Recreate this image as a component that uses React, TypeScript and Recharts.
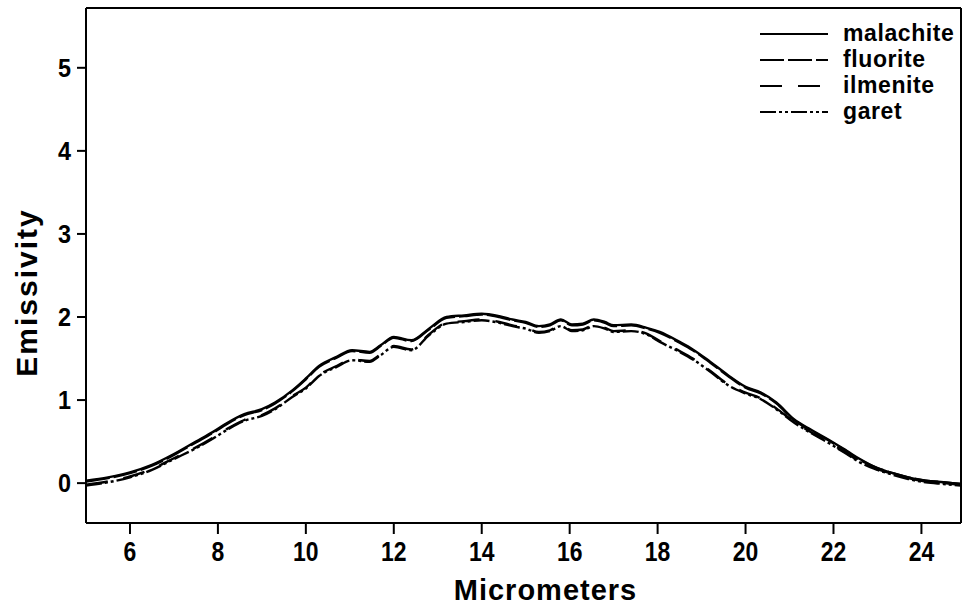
import React from 'react';
import { LineChart, Line, XAxis, YAxis, ReferenceLine } from 'recharts';

const wavelength = [5.0, 5.5, 6.0, 6.5, 7.0, 7.5, 7.9, 8.2, 8.6, 9.0, 9.3, 9.7, 10.0, 10.3, 10.7, 11.05, 11.45, 11.7, 12.0, 12.4, 12.8, 13.2, 13.6, 14.0, 14.4, 14.7, 15.0, 15.3, 15.55, 15.8, 16.05, 16.3, 16.55, 16.8, 17.0, 17.4, 17.75, 18.05, 18.5, 18.8, 19.2, 19.6, 20.0, 20.35, 20.7, 21.1, 21.5, 21.9, 22.3, 22.6, 23.0, 23.35, 23.7, 24.1, 24.5, 24.9];

const malachite = [0.03, 0.07, 0.13, 0.22, 0.35, 0.50, 0.62, 0.72, 0.83, 0.89, 0.97, 1.12, 1.26, 1.41, 1.52, 1.60, 1.58, 1.66, 1.76, 1.72, 1.86, 2.00, 2.02, 2.04, 2.01, 1.97, 1.94, 1.89, 1.91, 1.97, 1.91, 1.92, 1.97, 1.94, 1.90, 1.91, 1.87, 1.82, 1.70, 1.61, 1.46, 1.30, 1.16, 1.09, 0.97, 0.77, 0.64, 0.52, 0.39, 0.29, 0.18, 0.12, 0.07, 0.03, 0.01, -0.01];
const fluorite = [0.02, 0.06, 0.12, 0.21, 0.34, 0.49, 0.61, 0.71, 0.82, 0.88, 0.96, 1.11, 1.25, 1.40, 1.51, 1.59, 1.57, 1.65, 1.75, 1.71, 1.85, 1.99, 2.01, 2.03, 2.00, 1.96, 1.93, 1.88, 1.90, 1.96, 1.90, 1.91, 1.96, 1.93, 1.89, 1.90, 1.86, 1.81, 1.69, 1.60, 1.45, 1.29, 1.15, 1.08, 0.96, 0.76, 0.63, 0.51, 0.38, 0.28, 0.18, 0.12, 0.07, 0.03, 0.01, -0.01];
const ilmenite = [-0.02, 0.02, 0.08, 0.17, 0.30, 0.43, 0.55, 0.65, 0.76, 0.82, 0.90, 1.05, 1.15, 1.30, 1.41, 1.49, 1.47, 1.55, 1.65, 1.61, 1.79, 1.93, 1.95, 1.97, 1.94, 1.90, 1.87, 1.82, 1.84, 1.90, 1.84, 1.85, 1.90, 1.87, 1.83, 1.84, 1.80, 1.71, 1.59, 1.50, 1.35, 1.19, 1.09, 1.02, 0.90, 0.74, 0.61, 0.49, 0.36, 0.26, 0.17, 0.11, 0.06, 0.02, 0.00, -0.02];
const garet = [-0.03, 0.01, 0.07, 0.16, 0.29, 0.42, 0.54, 0.64, 0.75, 0.81, 0.89, 1.04, 1.14, 1.29, 1.40, 1.48, 1.46, 1.54, 1.64, 1.60, 1.78, 1.92, 1.94, 1.96, 1.93, 1.89, 1.86, 1.81, 1.83, 1.89, 1.83, 1.84, 1.89, 1.86, 1.82, 1.83, 1.79, 1.70, 1.58, 1.49, 1.34, 1.18, 1.08, 1.01, 0.89, 0.73, 0.60, 0.48, 0.35, 0.25, 0.16, 0.10, 0.05, 0.01, -0.01, -0.03];

const xTicks = [6, 8, 10, 12, 14, 16, 18, 20, 22, 24];
const yTicks = [0, 1, 2, 3, 4, 5];
const xDomain = [5, 24.9];
const yDomain = [-0.48, 5.72];

const seriesNames = ['malachite', 'fluorite', 'ilmenite', 'garet'];
const seriesDash = ['', '24 4', '22 16', '16 3 3 3 3 3'];

const data = wavelength.map((w, i) => ({
  w,
  malachite: malachite[i],
  fluorite: fluorite[i],
  ilmenite: ilmenite[i],
  garet: garet[i],
}));

const FONT = '"Liberation Sans", Arial, Helvetica, sans-serif';

const LegendBox = () => (
  <div style={{ position: 'absolute', left: 758, top: 20, fontFamily: FONT, fontWeight: 'bold', fontSize: 23, letterSpacing: 0.6, color: '#000' }}>
    {seriesNames.map((n, i) => (
      <div key={n} style={{ display: 'flex', alignItems: 'center', height: 26 }}>
        <svg width={72} height={12} style={{ marginRight: 13 }}>
          <line x1={2} y1={7} x2={70} y2={7} stroke="#000" strokeWidth={2} strokeDasharray={seriesDash[i] || undefined} />
        </svg>
        <span>{n}</span>
      </div>
    ))}
  </div>
);

const XTick = (props: any) => {
  const { x, y, payload } = props;
  return (
    <text transform={`translate(${x} ${y + 22}) scale(0.85 1)`} textAnchor="middle" fontFamily={FONT} fontWeight="bold" fontSize={27} fill="#000">
      {payload.value}
    </text>
  );
};

const YTick = (props: any) => {
  const { x, y, payload } = props;
  return (
    <text transform={`translate(${x} ${y + 9}) scale(0.9 1)`} textAnchor="end" fontFamily={FONT} fontWeight="bold" fontSize={26} fill="#000">
      {payload.value}
    </text>
  );
};

const XTitle = (props: any) => {
  const vb = props.viewBox;
  return (
    <text x={vb.x + vb.width / 2 + 22} y={vb.y + 77} textAnchor="middle" fontFamily={FONT} fontWeight="bold" fontSize={29} letterSpacing={1} fill="#000">
      Micrometers
    </text>
  );
};

const YTitle = (props: any) => {
  const vb = props.viewBox;
  const cx = vb.x + 26;
  const cy = vb.y + vb.height / 2 + 27;
  return (
    <text x={cx} y={cy} transform={`rotate(-90 ${cx} ${cy})`} textAnchor="middle" dominantBaseline="central" fontFamily={FONT} fontWeight="bold" fontSize={30} letterSpacing={2} fill="#000">
      Emissivity
    </text>
  );
};

export default function App() {
  return (
    <div style={{ position: 'absolute', left: 0, top: 0, width: 962, height: 607, background: '#fff' }}>
      <LineChart width={962} height={607} data={data} margin={{ top: 8, right: 1, bottom: 0, left: 0 }}>
        <XAxis
          dataKey="w"
          type="number"
          domain={xDomain}
          ticks={xTicks}
          allowDataOverflow
          height={84}
          tickSize={11}
          tickMargin={5}
          stroke="#000"
          strokeWidth={2}
          tick={<XTick />}
          label={<XTitle />}
        />
        <YAxis
          type="number"
          domain={yDomain}
          ticks={yTicks}
          allowDataOverflow
          width={86}
          tickSize={9}
          tickMargin={6}
          stroke="#000"
          strokeWidth={2}
          tick={<YTick />}
          label={<YTitle />}
        />
        <ReferenceLine y={yDomain[1]} stroke="#000" strokeWidth={2} ifOverflow="visible" />
        <ReferenceLine x={xDomain[1]} stroke="#000" strokeWidth={2} ifOverflow="visible" />
        {seriesNames.map((n, i) => (
          <Line
            key={n}
            dataKey={n}
            type="monotone"
            stroke="#000"
            strokeWidth={2.4}
            strokeDasharray={seriesDash[i] || undefined}
            dot={false}
            isAnimationActive={false}
          />
        ))}
      </LineChart>
      <LegendBox />
    </div>
  );
}
